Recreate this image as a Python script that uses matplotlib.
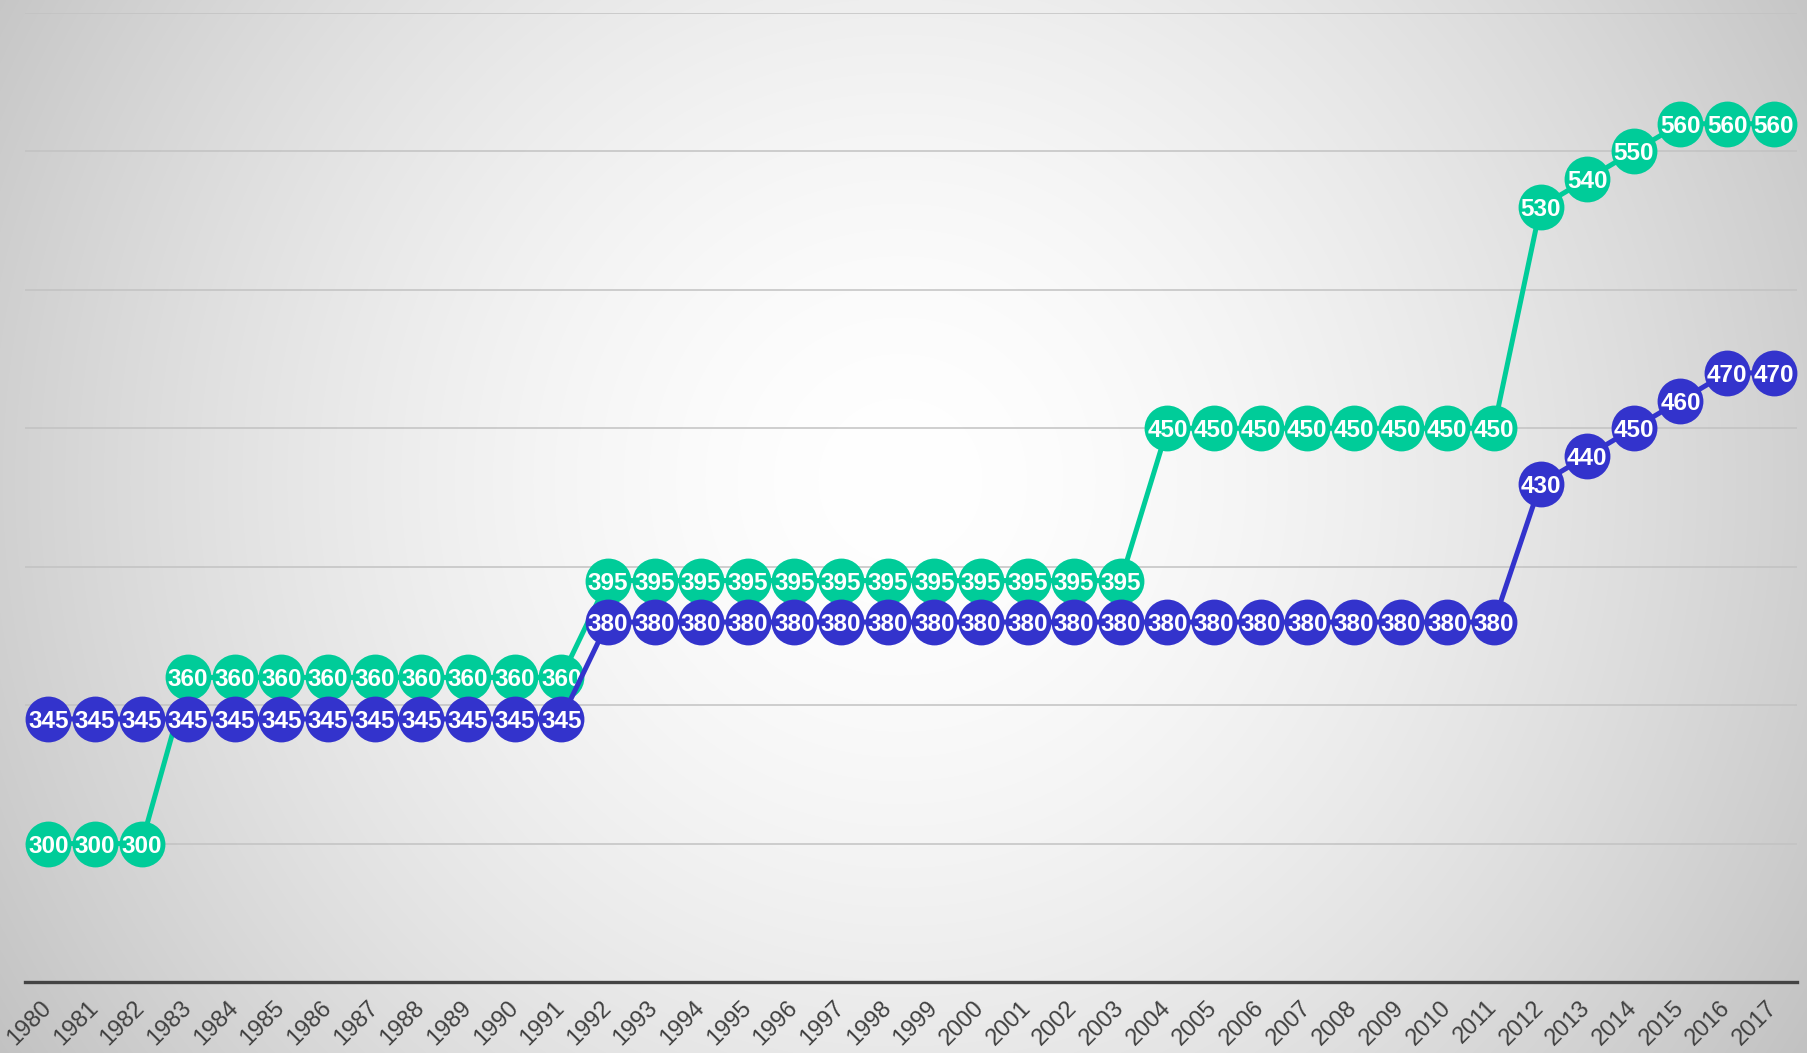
"""Two step-like series with value bubbles on a soft radial-gradient background."""
import numpy as np
import matplotlib
matplotlib.use("Agg")
import matplotlib.pyplot as plt

W, H, DPI = 1807, 1053, 100
GREEN = "#00CC99"
BLUE = "#3333CC"

years = list(range(1980, 2018))
green_vals = [300, 300, 300,
              360, 360, 360, 360, 360, 360, 360, 360, 360,
              395, 395, 395, 395, 395, 395, 395, 395, 395, 395, 395, 395,
              450, 450, 450, 450, 450, 450, 450, 450,
              530, 540, 550, 560, 560, 560]
blue_vals = [345, 345, 345, 345, 345, 345, 345, 345, 345, 345, 345, 345,
             380, 380, 380, 380, 380, 380, 380, 380, 380, 380,
             380, 380, 380, 380, 380, 380, 380, 380, 380, 380,
             430, 440, 450, 460, 470, 470]
grid_vals = [300, 350, 400, 450, 500, 550, 600]

plt.rcParams["font.family"] = ["Liberation Sans", "DejaVu Sans"]
fig = plt.figure(figsize=(W / DPI, H / DPI), dpi=DPI)

# radial gradient background
bg = fig.add_axes([0, 0, 1, 1], zorder=0)
yy, xx = np.mgrid[0:H, 0:W]
d = np.hypot(xx - 900, yy - 480) / np.hypot(907, 573)
shade = 1.0 - 0.24 * np.clip(d, 0, 1) ** 1.6
bg.imshow(np.dstack([shade] * 3), aspect="auto", extent=(0, 1, 0, 1))
bg.axis("off")

ax = fig.add_axes([25 / W, (H - 982) / H, (1797 - 25) / W, (982 - 13) / H], zorder=1)
ax.patch.set_alpha(0)
ax.set_xlim(1979.5, 2017.5)
ax.set_ylim(250, 600)

for g in grid_vals:
    ax.axhline(g, color="#c2c2c2", lw=1.1, zorder=1)
ax.axhline(250, color="#444444", lw=2.4, zorder=2, clip_on=False)

for vals, col, z in [(green_vals, GREEN, 3), (blue_vals, BLUE, 5)]:
    ax.plot(years, vals, color=col, lw=3.6, marker="o", ms=33,
            mec="none", zorder=z, solid_capstyle="round")
    for x, v in zip(years, vals):
        ax.text(x, v, str(v), color="white", fontsize=17.5, fontweight="bold",
                ha="center", va="center_baseline", zorder=z + 0.5)

for s in ax.spines.values():
    s.set_visible(False)
ax.set_yticks([])
ax.set_xticks(years)
ax.set_xticklabels([str(y) for y in years], rotation=45, ha="right",
                   va="center", rotation_mode="anchor",
                   fontsize=17, color="#404040")
ax.tick_params(axis="x", length=0, pad=16)

fig.savefig("out.png", dpi=DPI)
